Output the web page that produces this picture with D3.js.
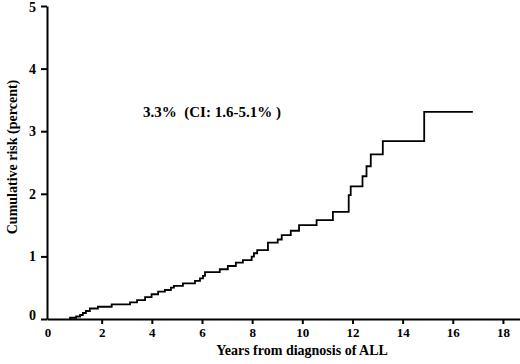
<!DOCTYPE html>
<html>
<head>
<meta charset="utf-8">
<script src="https://cdn.jsdelivr.net/npm/d3@7"></script>
<style>
  body { margin: 0; background: #fff; }
  svg { display: block; font-family: "Liberation Serif", "Times New Roman", serif; font-weight: bold; }
  .axis text { font-family: "Liberation Serif", "Times New Roman", serif; font-size: 13px; font-weight: bold; fill: #000; }
  .axis path, .axis line { stroke: #000; stroke-width: 2; }
</style>
</head>
<body>
<div id="chart"></div>
<script>
// Cumulative risk step curve, years from diagnosis of ALL

const eventYears = [0.74, 0.98, 1.14, 1.25, 1.37, 1.53, 1.85, 2.40, 3.13, 3.41, 3.73, 3.99, 4.25, 4.52,
  4.76, 4.88, 5.24, 5.72, 5.92, 6.04, 6.12, 6.71, 7.03, 7.35, 7.63, 7.98, 8.07, 8.20, 8.63, 9.02,
  9.18, 9.54, 9.87, 10.57, 11.22, 11.85, 11.93, 12.40, 12.56, 12.73, 13.21, 14.86];
const riskPct = [0.02, 0.04, 0.064, 0.096, 0.128, 0.168, 0.196, 0.235, 0.267, 0.30, 0.35, 0.395, 0.436, 0.463,
  0.50, 0.53, 0.57, 0.61, 0.65, 0.69, 0.75, 0.795, 0.847, 0.90, 0.94, 0.995, 1.05, 1.10, 1.22, 1.27,
  1.34, 1.41, 1.50, 1.58, 1.71, 1.98, 2.12, 2.28, 2.44, 2.63, 2.84, 3.31];
const lastFollowUp = 16.80;

const xTicks = [0, 2, 4, 6, 8, 10, 12, 14, 16, 18];
const yTicks = [0, 1, 2, 3, 4, 5];
const annotation = "3.3%  (CI: 1.6-5.1% )";

const width = 520, height = 364;
const svg = d3.select("#chart").append("svg")
  .attr("width", width).attr("height", height);

const x = d3.scaleLinear().domain([-0.18, 18.68]).range([47, 520]);
const y = d3.scaleLinear().domain([0, 5]).range([319, 6]);

// step points: start at first event with zero risk
const pts = [{ t: eventYears[0], v: 0 }];
eventYears.forEach((t, i) => pts.push({ t, v: riskPct[i] }));
pts.push({ t: lastFollowUp, v: riskPct[riskPct.length - 1] });

const line = d3.line().x(d => x(d.t)).y(d => y(d.v)).curve(d3.curveStepAfter);

// axes
const gx = svg.append("g").attr("class", "axis")
  .attr("transform", `translate(0,${y(0)})`)
  .call(d3.axisBottom(x).tickValues(xTicks).tickFormat(d3.format("d"))
    .tickSize(5).tickSizeOuter(0).tickPadding(4));
gx.selectAll(".tick").filter(d => d === 0).select("line").remove();
gx.selectAll(".tick").filter(d => d === 0).select("text").attr("dx", -4);

const gy = svg.append("g").attr("class", "axis")
  .attr("transform", `translate(${x(-0.18)},0)`)
  .call(d3.axisLeft(y).tickValues(yTicks).tickFormat(d3.format("d"))
    .tickSize(6).tickSizeOuter(0).tickPadding(5));
gy.selectAll("text").style("font-size", "14px");
gy.selectAll(".tick").filter(d => d === 0).select("text").attr("dy", "0.02em");
gy.selectAll(".tick").filter(d => d === 5).select("text").attr("dy", "0.4em");

svg.append("path")
  .datum(pts)
  .attr("d", line)
  .attr("fill", "none")
  .attr("stroke", "#000")
  .attr("stroke-width", 1.8);

// titles
svg.append("text")
  .attr("x", 302).attr("y", 355)
  .attr("text-anchor", "middle")
  .style("font-size", "14px")
  .text("Years from diagnosis of ALL");

svg.append("text")
  .attr("transform", "translate(17,157) rotate(-90)")
  .attr("text-anchor", "middle")
  .style("font-size", "14px")
  .text("Cumulative risk (percent)");

svg.append("text")
  .attr("x", 143).attr("y", 117)
  .style("font-size", "15px")
  .style("white-space", "pre")
  .attr("xml:space", "preserve")
  .text(annotation);
</script>
</body>
</html>
